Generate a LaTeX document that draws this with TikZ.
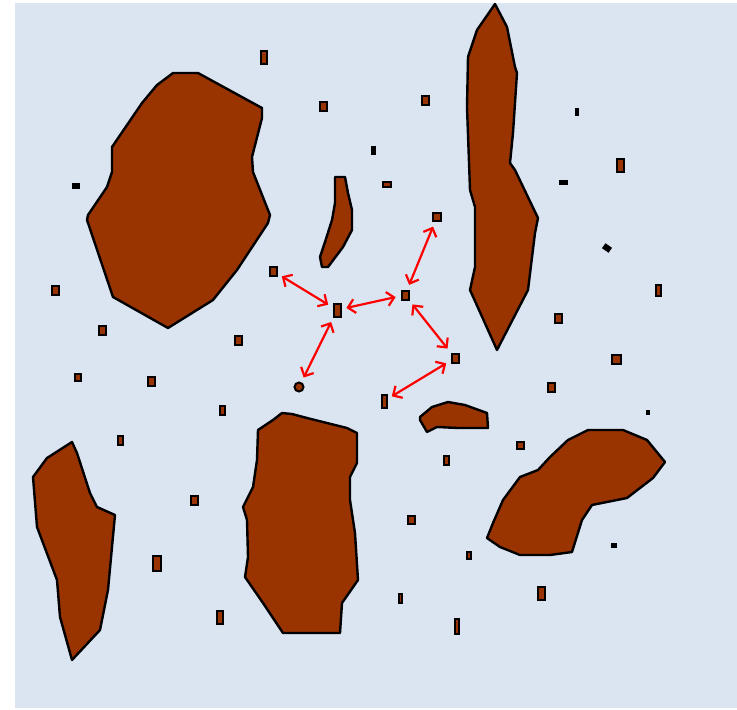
\documentclass[tikz,border=0pt]{standalone}
\usetikzlibrary{arrows.meta}
\definecolor{bg}{RGB}{219,229,241}
\definecolor{rock}{RGB}{153,51,0}
\definecolor{arrred}{RGB}{255,0,0}
\begin{document}
\begin{tikzpicture}[x=1pt,y=-1pt,
  blob/.style={fill=rock,draw=black,line width=2.4pt,line join=round},
  sq/.style={rectangle,fill=rock,draw=black,line width=2pt,inner sep=0pt},
  dot/.style={rectangle,fill=black,draw=black,line width=1pt,inner sep=0pt},
  arr/.style={draw=arrred,line width=2.2pt,{Straight Barb[length=7pt,width=14pt]}-{Straight Barb[length=7pt,width=14pt]},shorten >=5pt,shorten <=5pt}]
\useasboundingbox (0,0) rectangle (737,710);
\fill[white] (0,0) rectangle (737,710);
\fill[bg] (15,3) rectangle (737,708);
% large blob top-left
\draw[blob] (173,73) -- (198,73) -- (262,108) -- (262,118) -- (252,157) -- (253,172) -- (270,215) -- (268,223) -- (237,270) -- (213,300) -- (168,328) -- (113,297) -- (87,220) -- (88,215) -- (107,187) -- (112,172) -- (112,147) -- (142,103) -- (157,85) -- cycle;
% tall right blob
\draw[blob] (495,4) -- (507,27) -- (515,67) -- (517,73) -- (513,133) -- (510,163) -- (515,170) -- (538,218) -- (535,233) -- (528,290) -- (497,350) -- (470,290) -- (475,267) -- (475,207) -- (470,190) -- (467,107) -- (468,57) -- (477,30) -- cycle;
% bottom right blob
\draw[blob] (588,430) -- (623,430) -- (647,440) -- (665,462) -- (653,478) -- (627,498) -- (592,505) -- (582,520) -- (572,552) -- (550,555) -- (520,555) -- (500,547) -- (487,538) -- (493,523) -- (503,500) -- (520,477) -- (538,470) -- (550,457) -- (568,440) -- cycle;
% bottom middle blob
\draw[blob] (282,413) -- (292,414) -- (307,418) -- (327,423) -- (347,428) -- (357,433) -- (357,463) -- (350,477) -- (350,500) -- (355,533) -- (358,580) -- (342,603) -- (340,633) -- (283,633) -- (263,603) -- (245,577) -- (248,557) -- (247,520) -- (243,507) -- (253,487) -- (257,460) -- (258,430) -- (273,420) -- cycle;
% bottom left blob
\draw[blob] (72,442) -- (77,453) -- (90,493) -- (97,507) -- (115,515) -- (112,547) -- (108,590) -- (100,630) -- (72,660) -- (60,617) -- (57,580) -- (37,527) -- (33,477) -- (47,458) -- cycle;
% small curved blob
\draw[blob] (335,177) -- (345,177) -- (348,193) -- (352,210) -- (352,230) -- (343,247) -- (328,267) -- (322,267) -- (320,257) -- (325,242) -- (332,220) -- (335,203) -- cycle;
% small elongated blob
\draw[blob] (420,420) -- (420,417) -- (432,407) -- (448,402) -- (465,405) -- (487,413) -- (488,428) -- (458,428) -- (437,427) -- (427,432) -- cycle;
% small squares
\node[sq,minimum width=6pt,minimum height=13pt] (s1) at (264,57) {};
\node[sq,minimum width=7pt,minimum height=9pt] (s2) at (323,106) {};
\node[sq,minimum width=7pt,minimum height=9pt] (s3) at (425,100) {};
\node[dot,minimum width=3pt,minimum height=7pt] (k1) at (577,112) {};
\node[dot,minimum width=4pt,minimum height=8pt] (k2) at (373,150) {};
\node[sq,minimum width=7pt,minimum height=13pt] (s4) at (620,165) {};
\node[sq,minimum width=8pt,minimum height=5pt] (s5) at (387,184) {};
\node[dot,minimum width=7pt,minimum height=5pt] (k3) at (76,186) {};
\node[dot,minimum width=8pt,minimum height=4pt] (k4) at (563,182) {};
\node[sq,minimum width=8pt,minimum height=8pt] (s6) at (437,217) {};
\node[dot,minimum width=7pt,minimum height=5pt,rotate=-35] (k5) at (607,248) {};
\node[sq,minimum width=7pt,minimum height=9pt] (s7) at (273,271) {};
\node[sq,minimum width=7pt,minimum height=9pt] (s8) at (55,290) {};
\node[sq,minimum width=5pt,minimum height=11pt] (s9) at (658,290) {};
\node[sq,minimum width=7pt,minimum height=13pt] (h1) at (337,310) {};
\node[sq,minimum width=7pt,minimum height=9pt] (h2) at (405,295) {};
\node[sq,minimum width=7pt,minimum height=9pt] (s10) at (558,318) {};
\node[sq,minimum width=7pt,minimum height=9pt] (s11) at (102,330) {};
\node[sq,minimum width=7pt,minimum height=9pt] (s12) at (238,340) {};
\node[sq,minimum width=7pt,minimum height=9pt] (s13) at (455,358) {};
\node[sq,minimum width=9pt,minimum height=9pt] (s14) at (616,359) {};
\node[sq,minimum width=6pt,minimum height=7pt] (s15) at (78,377) {};
\node[sq,minimum width=7pt,minimum height=9pt] (s16) at (151,381) {};
\node[circle,fill=rock,draw=black,line width=2pt,inner sep=0pt,minimum size=9pt] (r1) at (299,387) {};
\node[sq,minimum width=7pt,minimum height=9pt] (s17) at (551,387) {};
\node[sq,minimum width=5pt,minimum height=13pt] (s18) at (384,401) {};
\node[sq,minimum width=5pt,minimum height=9pt] (k6) at (222,410) {};
\node[dot,minimum width=3pt,minimum height=4pt] (k7) at (648,412) {};
\node[sq,minimum width=5pt,minimum height=9pt] (s19) at (120,440) {};
\node[sq,minimum width=7pt,minimum height=7pt] (s20) at (520,445) {};
\node[sq,minimum width=5pt,minimum height=9pt] (s21) at (446,460) {};
\node[sq,minimum width=7pt,minimum height=9pt] (s22) at (194,500) {};
\node[sq,minimum width=7pt,minimum height=8pt] (s23) at (411,520) {};
\node[dot,minimum width=5pt,minimum height=4pt] (k8) at (614,545) {};
\node[sq,minimum width=4pt,minimum height=7pt] (s24) at (469,555) {};
\node[sq,minimum width=8pt,minimum height=15pt] (s25) at (157,563) {};
\node[sq,minimum width=3pt,minimum height=9pt] (k9) at (400,598) {};
\node[sq,minimum width=7pt,minimum height=13pt] (s26) at (541,593) {};
\node[sq,minimum width=6pt,minimum height=13pt] (s27) at (220,617) {};
\node[sq,minimum width=4pt,minimum height=15pt] (s28) at (457,626) {};
% arrows
\draw[arr] (s7) -- (h1);
\draw[arr] (h1) -- (h2);
\draw[arr] (h1) -- (r1);
\draw[arr] (s6) -- (h2);
\draw[arr] (h2) -- (s13);
\draw[arr] (s13) -- (s18);
\end{tikzpicture}
\end{document}
